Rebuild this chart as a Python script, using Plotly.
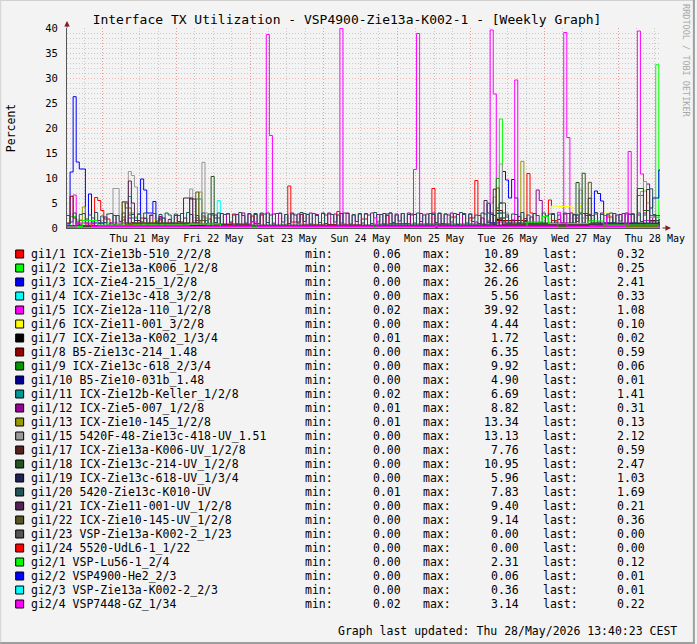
import plotly.graph_objects as go
from datetime import datetime, timedelta

# ---------------- DATA ----------------
T0 = datetime(2026, 5, 20, 12, 17)
T_END = datetime(2026, 5, 28, 13, 40, 23)

DAY_TICKS = [datetime(2026, 5, d, 12) for d in range(21, 29)]
DAY_LABELS = ["Thu 21 May", "Fri 22 May", "Sat 23 May", "Sun 24 May",
              "Mon 25 May", "Tue 26 May", "Wed 27 May", "Thu 28 May"]
MIDNIGHTS = [datetime(2026, 5, d) for d in range(21, 29)]

NAMES = ["gi1/1 ICX-Zie13b-510_2/2/8", "gi1/2 ICX-Zie13a-K006_1/2/8", "gi1/3 ICX-Zie4-215_1/2/8",
         "gi1/4 ICX-Zie13c-418_3/2/8", "gi1/5 ICX-Zie12a-110_1/2/8", "gi1/6 ICX-Zie11-001_3/2/8",
         "gi1/7 ICX-Zie13a-K002_1/3/4", "gi1/8 B5-Zie13c-214_1.48", "gi1/9 ICX-Zie13c-618_2/3/4",
         "gi1/10 B5-Zie10-031b_1.48", "gi1/11 ICX-Zie12b-Keller_1/2/8", "gi1/12 ICX-Zie5-007_1/2/8",
         "gi1/13 ICX-Zie10-145_1/2/8", "gi1/15 5420F-48-Zie13c-418-UV_1.51",
         "gi1/17 ICX-Zie13a-K006-UV_1/2/8", "gi1/18 ICX-Zie13c-214-UV_1/2/8",
         "gi1/19 ICX-Zie13c-618-UV_1/3/4", "gi1/20 5420-Zie13c-K010-UV",
         "gi1/21 ICX-Zie11-001-UV_1/2/8", "gi1/22 ICX-Zie10-145-UV_1/2/8",
         "gi1/23 VSP-Zie13a-K002-2_1/23", "gi1/24 5520-UdL6-1_1/22", "gi2/1 VSP-Lu56-1_2/4",
         "gi2/2 VSP4900-He2_2/3", "gi2/3 VSP-Zie13a-K002-2_2/3", "gi2/4 VSP7448-GZ_1/34"]
MINS = [0.06, 0.00, 0.00, 0.00, 0.02, 0.00, 0.01, 0.00, 0.00, 0.00, 0.02, 0.01, 0.01,
        0.00, 0.00, 0.00, 0.00, 0.01, 0.00, 0.00, 0.00, 0.00, 0.00, 0.00, 0.00, 0.02]
MAXS = [10.89, 32.66, 26.26, 5.56, 39.92, 4.44, 1.72, 6.35, 9.92, 4.90, 6.69, 8.82, 13.34,
        13.13, 7.76, 10.95, 5.96, 7.83, 9.40, 9.14, 0.00, 0.00, 2.31, 0.06, 0.36, 3.14]
LASTS = [0.32, 0.25, 2.41, 0.33, 1.08, 0.10, 0.02, 0.59, 0.06, 0.01, 1.41, 0.31, 0.13,
         2.12, 0.59, 2.47, 1.03, 1.69, 0.21, 0.36, 0.00, 0.00, 0.12, 0.01, 0.01, 0.22]
COLORS = ["#FF0000", "#00FF00", "#0000FF", "#00FFFF", "#FF00FF", "#FFFF00", "#000000",
          "#990000", "#009900", "#000099", "#009999", "#990099", "#999900", "#999999",
          "#552222", "#225522", "#222255", "#225555", "#552255", "#555522", "#555555",
          "#FF0000", "#00FF00", "#0000FF", "#00FFFF", "#FF00FF"]

# step series: [hour offset from T0, value] (value held until next entry)
gi1_1 = [[0, 0.4], [4, 1.5], [6, 0.8], [9, 6.1], [10, 5.5], [11, 3.5], [12, 1.8], [14, 0.6], [18, 2.2],
         [19, 0.7], [24, 2.0], [26, 0.5], [30, 1.6], [31, 0.4], [36, 2.5], [37, 0.8], [42, 2.0], [43, 0.5],
         [47, 2.9], [48, 0.7], [54, 2.8], [55, 0.6], [60, 2.4], [61, 0.9], [63, 2.8], [64, 0.5], [72, 8.4],
         [73, 1.2], [76, 2.7], [77, 0.6], [84, 2.6], [85, 0.7], [88, 3.3], [89, 0.6], [96, 1.8], [98, 0.5],
         [104, 2.5], [105, 0.9], [112, 2.6], [113, 0.4], [119, 7.9], [120, 0.8], [125, 2.2], [127, 0.5],
         [131, 2.0], [133, 9.5], [134, 2.5], [135, 0.6], [140, 1.8], [142, 0.5], [150, 10.89], [151, 3.0],
         [152, 0.7], [157, 5.6], [158, 1.5], [160, 0.5], [166, 2.0], [167, 0.6], [176, 2.2], [178, 0.7],
         [183, 2.8], [185, 0.6], [190, 1.4], [192, 0.32]]
gi1_2 = [[0, 0.2], [1, 2.3], [3, 1.6], [5, 0.4], [10, 1.0], [14, 0.3], [22, 2.2], [23, 0.6], [30, 0.4],
         [46, 1.0], [48, 0.2], [70, 0.6], [72, 0.2], [141, 21.8], [142, 0.8], [144, 0.3], [150, 1.2],
         [156, 0.5], [170, 1.5], [172, 0.4], [188, 7.4], [189, 0.8], [192, 32.66], [193, 0.25]]
gi1_3 = [[0, 0.8], [1, 11.2], [2, 26.26], [3, 13.2], [4, 11.8], [6, 1.5], [7, 6.8], [8, 1.0], [12, 0.5],
         [24, 9.8], [25, 7.6], [26, 3.0], [28, 5.3], [29, 0.8], [34, 0.4], [138, 1.0], [141, 5.0],
         [142, 11.3], [143, 9.6], [144, 6.0], [145, 9.7], [146, 6.0], [147, 1.5], [149, 0.8], [172, 7.4],
         [173, 6.9], [174, 5.4], [175, 1.0], [178, 0.5], [190, 4.0], [191, 6.0], [193, 11.6]]
gi1_4 = [[0, 0.2], [49, 5.5], [50, 0.4], [60, 0.2], [130, 0.5], [150, 0.3], [175, 2.5], [176, 0.5],
         [193, 0.33]]
gi1_5 = [[0, 0.3], [2, 6.6], [3, 0.8], [5, 0.3], [14, 1.0], [20, 0.4], [30, 1.8], [31, 0.5], [40, 0.3],
         [65, 38.7], [66, 18.5], [67, 1.0], [68, 0.4], [89, 39.92], [90, 0.8], [91, 0.3], [113, 11.7],
         [114, 38.9], [115, 0.8], [116, 0.3], [138, 39.6], [139, 26.8], [140, 1.2], [146, 29.6],
         [147, 1.0], [148, 0.4], [162, 39.1], [163, 18.1], [164, 1.0], [165, 0.4], [183, 15.3],
         [184, 1.0], [186, 39.4], [187, 10.8], [188, 1.5], [190, 0.6], [193, 1.08]]
gi1_6 = [[0, 0.1], [28, 1.5], [30, 0.2], [45, 2.5], [46, 0.2], [158, 4.4], [160, 4.3], [164, 4.2],
         [165, 0.8], [166, 0.2], [167, 4.3], [168, 0.5], [175, 3.0], [177, 0.3], [193, 0.1]]
gi1_7 = [[0, 0.05], [140, 1.72], [141, 0.3], [150, 0.5], [160, 0.1], [193, 0.02]]
gi1_8 = [[0, 1.0], [1, 6.35], [2, 2.0], [3, 0.5], [20, 0.8], [60, 0.3], [100, 0.5], [140, 1.5],
         [150, 0.6], [180, 0.9], [193, 0.59]]
gi1_9 = [[0, 0.3], [140, 9.92], [141, 2.0], [143, 0.5], [170, 2.5], [172, 0.6], [186, 6.5], [188, 0.8],
         [193, 0.06]]
gi1_10 = [[0, 0.2], [137, 4.9], [138, 1.0], [140, 0.3], [193, 0.01]]
gi1_11 = [[0, 0.5], [20, 6.3], [21, 2.0], [23, 0.8], [42, 5.8], [44, 1.5], [46, 0.5], [100, 0.8],
          [140, 3.0], [143, 0.7], [165, 2.6], [167, 0.6], [190, 1.41]]
gi1_12 = [0.3, 0.5, 0.4, 1.2, 0.6, 0.3, 1.8, 0.5, 2.0, 0.4, 1.5, 0.3, 2.2, 0.6, 1.0, 2.5, 0.4, 0.8, 1.6, 0.3, 2.0, 1.1, 0.5, 2.8,
          0.6, 1.9, 0.4, 2.6, 0.3, 1.4, 2.3, 0.5, 0.4, 1.7, 0.6, 2.5, 0.3, 1.2, 2.0, 0.4, 2.7, 0.5, 1.5, 0.3, 2.4, 0.6, 1.8, 0.4,
          2.6, 0.3, 2.9, 0.2, 2.8, 1.0, 0.3, 2.7, 0.2, 3.0, 0.4, 2.8, 0.2, 2.9, 0.3, 2.6, 0.5, 3.0, 0.2, 2.8, 0.3, 2.9, 0.2, 2.7,
          0.3, 3.0, 0.2, 2.8, 0.4, 2.9, 0.2, 3.0, 0.3, 2.7, 0.2, 2.9, 0.4, 3.0, 0.2, 2.8, 0.3, 2.9, 0.2, 3.0, 0.3, 2.6, 0.2, 2.9,
          0.3, 2.8, 0.2, 3.0, 0.4, 2.7, 0.2, 2.9, 0.3, 3.0, 0.2, 2.8, 0.4, 2.9, 0.2, 3.0, 0.3, 2.7, 0.2, 2.9, 0.4, 2.8, 0.2, 3.0,
          0.3, 2.9, 0.2, 2.8, 0.4, 3.0, 0.2, 2.7, 0.3, 2.9, 0.2, 2.8, 0.5, 1.2, 0.3, 2.0, 0.6, 1.4, 0.3, 2.5, 0.4, 1.8, 0.6, 2.2,
          0.5, 1.6, 0.4, 2.3, 0.6, 1.9, 0.4, 2.2, 0.5, 7.6, 5.5, 0.4, 2.4, 0.3, 2.9, 0.5, 1.7, 0.3, 2.8, 0.4, 3.0, 0.2, 2.6, 0.5,
          2.9, 0.3, 2.7, 0.4, 2.8, 0.2, 3.0, 0.5, 2.6, 0.3, 2.9, 0.2, 2.7, 0.6, 3.0, 0.3, 2.8, 0.4, 2.6, 0.5, 3.0, 8.8, 0.5, 2.2,
          0.8, 0.31]
gi1_13 = [[0, 0.2], [5, 4.2], [6, 0.5], [18, 5.3], [20, 3.0], [22, 0.6], [43, 7.2], [44, 2.0], [46, 0.4],
          [148, 13.34], [149, 0.8], [151, 0.3], [193, 0.13]]
gi1_15 = [[0, 0.3], [15, 7.9], [17, 1.0], [20, 11.3], [21, 10.5], [22, 8.2], [23, 1.2], [25, 0.3],
          [40, 7.8], [41, 0.6], [44, 13.13], [45, 3.0], [46, 0.5], [137, 5.0], [139, 6.2], [140, 2.0],
          [141, 12.8], [142, 3.0], [144, 0.6], [167, 7.6], [168, 2.0], [170, 0.5], [187, 7.3], [188, 9.3],
          [189, 5.0], [190, 2.12]]
gi1_17 = [[0, 0.2], [19, 5.0], [20, 1.0], [40, 6.0], [41, 5.8], [42, 1.0], [44, 0.3], [139, 7.76],
          [140, 3.5], [142, 0.8], [189, 7.7], [190, 1.5], [193, 0.59]]
gi1_18 = [[0, 0.5], [47, 10.3], [48, 2.0], [50, 0.6], [140, 4.0], [141, 5.0], [143, 1.0], [166, 9.1],
          [167, 3.0], [168, 10.95], [169, 2.5], [171, 0.8], [186, 7.9], [188, 3.5], [190, 2.47]]
gi1_19 = [[0, 0.3], [30, 2.0], [32, 0.4], [170, 5.96], [171, 1.0], [193, 1.03]]
gi1_20 = [2.5, 1.2, 3.0, 0.8, 2.7, 2.9, 1.0, 2.6, 1.4, 3.1, 0.9, 2.4, 1.1, 2.8, 2.9, 0.7, 2.5, 1.3, 3.0, 1.0, 2.6, 2.7, 0.9, 2.8,
          1.2, 3.0, 0.8, 2.5, 2.9, 1.1, 2.7, 0.9, 3.0, 2.6, 1.0, 2.8, 1.3, 2.9, 0.8, 3.1, 2.7, 1.0, 2.5, 1.4, 3.0, 0.9, 2.8, 2.6,
          1.1, 3.0, 0.7, 2.7, 2.9, 1.2, 2.6, 0.8, 3.1, 2.5, 1.0, 2.9, 1.3, 2.7, 0.9, 3.0, 2.8, 1.1, 2.6, 0.8, 2.9, 3.0, 1.2, 2.7,
          0.9, 2.8, 2.6, 1.0, 3.1, 1.3, 2.7, 0.8, 2.9, 2.5, 1.1, 3.0, 0.9, 2.8, 2.7, 1.2, 2.6, 1.0, 3.0, 2.9, 0.8, 2.7, 1.3, 2.8,
          1.0, 2.9, 2.6, 0.9, 3.1, 1.2, 2.7, 0.8, 2.8, 3.0, 1.1, 2.6, 1.4, 2.9, 0.9, 2.7, 2.8, 1.0, 3.0, 1.3, 2.6, 0.8, 2.9, 2.7,
          1.1, 3.0, 0.9, 2.8, 2.6, 1.2, 2.9, 0.7, 3.1, 2.7, 1.0, 2.8, 1.3, 2.6, 0.9, 3.0, 2.8, 1.1, 2.7, 0.8, 2.9, 3.0, 1.2, 2.6,
          0.9, 2.8, 2.7, 1.0, 3.1, 1.3, 2.6, 0.8, 2.9, 2.5, 1.1, 3.0, 0.9, 2.8, 2.7, 1.2, 2.6, 1.0, 3.0, 2.9, 0.8, 2.7, 1.3, 2.8,
          1.0, 2.9, 2.6, 0.9, 3.1, 1.2, 2.7, 0.8, 2.8, 3.0, 1.1, 2.6, 1.4, 2.9, 0.9, 2.7, 2.8, 1.0, 3.0, 1.3, 2.6, 0.8, 7.83, 2.7,
          1.5, 1.69]
gi1_21 = [[0, 0.3], [20, 9.4], [21, 5.0], [22, 1.5], [24, 0.4], [38, 6.0], [40, 5.8], [41, 1.0], [43, 0.3],
          [136, 5.5], [137, 3.0], [139, 0.6], [193, 0.21]]
gi1_22 = [[0, 0.4], [18, 5.2], [19, 4.0], [21, 1.0], [42, 7.2], [43, 1.5], [45, 0.5], [140, 8.0],
          [141, 2.0], [143, 0.6], [170, 9.14], [171, 1.0], [173, 0.4], [193, 0.36]]
gi1_23 = [[0, 0.0], [193, 0.0]]
gi1_24 = [[0, 0.0], [193, 0.0]]
gi2_1 = [[0, 0.3], [5, 1.5], [10, 0.6], [40, 0.8], [50, 0.2], [150, 1.2], [155, 2.31], [157, 0.9],
         [170, 1.4], [175, 0.6], [193, 0.12]]
gi2_2 = [[0, 0.01], [193, 0.01]]
gi2_3 = [[0, 0.05], [120, 0.36], [121, 0.05], [193, 0.01]]
gi2_4 = [[0, 0.2], [3, 1.0], [8, 0.3], [60, 1.2], [62, 0.3], [100, 2.0], [101, 0.3], [160, 3.14],
         [161, 1.0], [163, 0.3], [175, 2.5], [176, 0.3], [182, 2.8], [183, 0.5], [193, 0.22]]

SERIES = [gi1_1, gi1_2, gi1_3, gi1_4, gi1_5, gi1_6, gi1_7, gi1_8, gi1_9, gi1_10, gi1_11, gi1_12, gi1_13,
          gi1_15, gi1_17, gi1_18, gi1_19, gi1_20, gi1_21, gi1_22, gi1_23, gi1_24, gi2_1, gi2_2, gi2_3, gi2_4]

# ---------------- LAYOUT HELPERS ----------------
W, H = 697, 644
L, R, T, B = 67, 35, 28, 416
PW, PH = W - L - R, H - T - B
MONO = "DejaVu Sans Mono"


def px(x):
    return (x - L) / PW


def py(y):
    return (T + PH - y) / PH


def to_xy(s):
    if s and not isinstance(s[0], list):
        s = [[h, v] for h, v in enumerate(s)]
    xs = [T0 + timedelta(hours=h) for h, _ in s]
    ys = [v for _, v in s]
    xs.append(T_END)
    ys.append(ys[-1])
    return xs, ys


fig = go.Figure()
for s, c, n in zip(SERIES, COLORS, NAMES):
    xs, ys = to_xy(s)
    fig.add_trace(go.Scatter(x=xs, y=ys, mode="lines", line=dict(color=c, width=1, shape="hv"),
                             name=n, showlegend=False, hoverinfo="skip"))
# helper trace for the day-grid axis
fig.add_trace(go.Scatter(x=[T0, T_END], y=[None, None], xaxis="x2", showlegend=False, hoverinfo="skip"))

MINOR_GRID = "rgba(160,160,160,0.5)"
MAJOR_GRID = "rgba(240,120,120,0.55)"
AXIS_COL = "#555555"
DASH = "1px,2px"

fig.update_layout(
    width=W, height=H, autosize=False,
    margin=dict(l=L, r=R, t=T, b=B, pad=0),
    paper_bgcolor="#F3F3F3", plot_bgcolor="#F3F3F3",
    font=dict(family=MONO, color="#000000"),
    title=dict(text="Interface TX Utilization - VSP4900-Zie13a-K002-1 - [Weekly Graph]",
               font=dict(family=MONO, size=13, color="#000000"),
               x=347 / W, xanchor="center", xref="container", y=1 - 19 / H, yanchor="middle", yref="container"),
    xaxis=dict(range=[T0, T_END], tickmode="array", tickvals=DAY_TICKS, ticktext=DAY_LABELS,
               showgrid=False, zeroline=False, showline=True, linecolor=AXIS_COL, linewidth=1,
               ticks="", ticklabelstandoff=1, tickfont=dict(family=MONO, size=10, color="#000000"),
               minor=dict(tickmode="linear", tick0=datetime(2026, 5, 20), dtick=6 * 3600 * 1000,
                          showgrid=True, gridcolor=MINOR_GRID, griddash=DASH, gridwidth=1),
               fixedrange=True),
    xaxis2=dict(range=[T0, T_END], overlaying="x", anchor="y", side="bottom", tickmode="array",
                tickvals=MIDNIGHTS, showticklabels=False, ticks="", showgrid=True,
                gridcolor=MAJOR_GRID, griddash=DASH, gridwidth=1, zeroline=False, showline=False),
    yaxis=dict(range=[0, 40], tickmode="linear", tick0=0, dtick=5, showgrid=True, gridcolor=MAJOR_GRID,
               griddash=DASH, gridwidth=1, zeroline=False, showline=True, linecolor=AXIS_COL,
               linewidth=1, ticks="", ticklabelstandoff=6,
               tickfont=dict(family=MONO, size=10.5, color="#000000"),
               minor=dict(tickmode="linear", tick0=0, dtick=1, showgrid=True, gridcolor=MINOR_GRID,
                          griddash=DASH, gridwidth=1),
               fixedrange=True),
)

ann = []
shapes = []
ann.append(dict(text="Percent", x=px(11), y=py(128), xref="paper", yref="paper", showarrow=False,
                textangle=-90, font=dict(family=MONO, size=11.5, color="#000000"),
                xanchor="center", yanchor="middle"))
ann.append(dict(text="RRDTOOL / TOBI OETIKER", x=px(688), y=py(61), xref="paper", yref="paper",
                showarrow=False, textangle=90, font=dict(family=MONO, size=8.5, color="#A8A8A8"),
                xanchor="center", yanchor="middle"))
ann.append(dict(text="", x=px(67), y=py(21), xref="paper", yref="paper", showarrow=True, ax=0, ay=8,
                arrowhead=2, arrowsize=1.1, arrowwidth=1, arrowcolor="#802020"))
ann.append(dict(text="", x=px(673), y=py(228), xref="paper", yref="paper", showarrow=True, ax=-10, ay=0,
                arrowhead=2, arrowsize=1.1, arrowwidth=1, arrowcolor="#802020"))

LEG_FONT = dict(family=MONO, size=11.5, color="#000000")
for i, (n, c, mn, mx, la) in enumerate(zip(NAMES, COLORS, MINS, MAXS, LASTS)):
    yy = 254 + 14 * i
    shapes.append(dict(type="rect", xref="paper", yref="paper", x0=px(15.5), x1=px(23.5),
                       y0=py(yy + 4), y1=py(yy - 4), fillcolor=c, line=dict(color="#000000", width=1),
                       layer="above"))
    for txt, xx, anchor in [(n, 29, "left"), ("min:", 304, "left"), ("%.2f" % mn, 404, "right"),
                            ("max:", 422.5, "left"), ("%.2f" % mx, 523, "right"),
                            ("last:", 542.5, "left"), ("%.2f" % la, 648.5, "right")]:
        ann.append(dict(text=txt, x=px(xx), y=py(yy), xref="paper", yref="paper", showarrow=False,
                        xanchor=anchor, yanchor="middle", font=LEG_FONT))

ann.append(dict(text="Graph last updated: Thu 28/May/2026 13:40:23 CEST", x=px(681), y=py(631),
                xref="paper", yref="paper", showarrow=False, xanchor="right", yanchor="middle",
                font=LEG_FONT))

shapes += [
    dict(type="line", xref="paper", yref="paper", x0=px(0), x1=px(697), y0=py(0.5), y1=py(0.5),
         line=dict(color="#D0D0D0", width=1), layer="above"),
    dict(type="line", xref="paper", yref="paper", x0=px(0.5), x1=px(0.5), y0=py(0), y1=py(644),
         line=dict(color="#D0D0D0", width=1), layer="above"),
    dict(type="line", xref="paper", yref="paper", x0=px(696), x1=px(696), y0=py(0), y1=py(644),
         line=dict(color="#9E9E9E", width=2), layer="above"),
    dict(type="line", xref="paper", yref="paper", x0=px(0), x1=px(697), y0=py(643), y1=py(643),
         line=dict(color="#9E9E9E", width=2), layer="above"),
]

fig.update_layout(annotations=ann, shapes=shapes)
fig.write_html("out.html")
